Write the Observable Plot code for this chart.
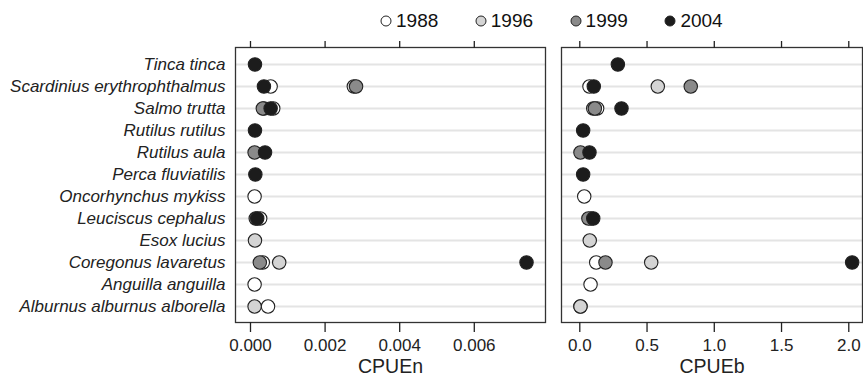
<!DOCTYPE html>
<html><head><meta charset="utf-8">
<script src="https://cdn.jsdelivr.net/npm/d3@7"></script>
<script src="https://cdn.jsdelivr.net/npm/@observablehq/plot@0.6"></script>
<style>
body{margin:0;background:#fff;font-family:"Liberation Sans",Arial,sans-serif;}
#wrap{position:relative;width:863px;height:383px;overflow:hidden;background:#fff;}
#left,#right{position:absolute;top:0;}
#left{left:0}
#right{left:550px}
#legend{position:absolute;left:0;top:0;width:863px;height:40px;z-index:5;}
.leg{position:absolute;top:8px;height:25px;display:flex;align-items:center;font-size:19px;color:#111;white-space:nowrap;}
.leg svg{margin-right:4px;}
</style></head><body>
<div id="wrap"><div id="left"></div><div id="right"></div><div id="legend"></div></div>
<script>
// ---- data ----
const species = ["Tinca tinca", "Scardinius erythrophthalmus", "Salmo trutta", "Rutilus rutilus", "Rutilus aula", "Perca fluviatilis", "Oncorhynchus mykiss", "Leuciscus cephalus", "Esox lucius", "Coregonus lavaretus", "Anguilla anguilla", "Alburnus alburnus alborella"];
const years = ["1988", "1996", "1999", "2004"];

const cpueN1988 = [null, 0.00054, 0.00061, null, null, null, 0.00011, 0.00026, null, 0.00033, 0.00011, 0.00047];
const cpueN1996 = [null, 0.00277, 0.00036, null, null, null, null, null, 0.00012, 0.00077, null, 0.00011];
const cpueN1999 = [null, 0.00283, 0.00033, null, 0.00011, null, null, 0.00014, null, 0.00025, null, null];
const cpueN2004 = [0.00012, 0.00036, 0.00054, 0.00012, 0.00039, 0.00013, null, 0.00018, null, 0.0074, null, null];

const cpueB1988 = [null, 0.072, 0.129, null, null, null, 0.033, 0.085, null, 0.122, 0.080, 0.005];
const cpueB1996 = [null, 0.58, 0.10, null, null, null, null, null, 0.074, 0.531, null, 0.005];
const cpueB1999 = [null, 0.825, 0.112, null, 0.005, null, null, 0.064, null, 0.191, null, null];
const cpueB2004 = [0.283, 0.104, 0.31, 0.025, 0.072, 0.025, null, 0.10, null, 2.025, null, null];

const ticksN = [0, 0.002, 0.004, 0.006];
const ticksB = [0, 0.5, 1.0, 1.5, 2.0];
const titleN = "CPUEn";
const titleB = "CPUEb";

// ---- styles ----
const fills = ["#ffffff", "#d4d4d4", "#8a8a8a", "#1c1c1c"];
const ink = "#222";

function longData(series) {
  const out = [];
  years.forEach((yr, j) => species.forEach((sp, i) => {
    const v = series[j][i];
    if (v != null) out.push({species: sp, year: yr, value: v});
  }));
  return out;
}

function panel(series, o) {
  const data = longData(series);
  const marks = [
    Plot.gridY({stroke: "#e4e4e4", strokeOpacity: 1, strokeWidth: 2}),
    Plot.frame({stroke: "#333", strokeWidth: 1.3}),
    Plot.axisX({anchor: "bottom", ticks: o.ticks, tickSize: 10, tickPadding: 6, tickFormat: o.fmt, strokeWidth: 1.3, fontSize: 17, label: null}),
    Plot.axisX({anchor: "top", ticks: o.ticks, tickSize: 7, tickFormat: () => "", strokeWidth: 1.3, label: null}),
    Plot.text([o.title], {frameAnchor: "bottom", dy: 50, fontSize: 19.5, fill: ink}),
    Plot.dot(data, {x: "value", y: "species", fill: "year", r: 6.7, stroke: ink, strokeWidth: 1.1})
  ];
  if (o.yAxis) marks.push(Plot.axisY({tickSize: 0, tickPadding: 10, fontSize: 17, fontStyle: "italic", label: null}));
  return Plot.plot({
    width: o.width, height: 383,
    marginTop: 47, marginBottom: 61, marginLeft: o.ml, marginRight: o.mr,
    style: {fontFamily: "Liberation Sans, Arial, sans-serif", fontSize: "17px", color: ink, background: "transparent", overflow: "visible"},
    x: {domain: o.domain, axis: null},
    y: {type: "point", domain: species, padding: 0, insetTop: 14, insetBottom: 13, axis: null},
    color: {domain: years, range: fills},
    marks
  });
}

document.getElementById("left").append(panel([cpueN1988, cpueN1996, cpueN1999, cpueN2004], {
  width: 550, ml: 235, mr: 5, domain: [-0.000402, 0.007909], ticks: ticksN, fmt: d3.format(".3f"), title: titleN, yAxis: true
}));
document.getElementById("right").append(panel([cpueB1988, cpueB1996, cpueB1999, cpueB2004], {
  width: 313, ml: 11, mr: 1, domain: [-0.136, 2.102], ticks: ticksB, fmt: d3.format(".1f"), title: titleB, yAxis: false
}));

// ---- legend ----
const legend = document.getElementById("legend");
years.forEach((yr, i) => {
  const d = document.createElement("div");
  d.className = "leg";
  d.style.left = (380 + i * 94.8) + "px";
  d.innerHTML = `<svg width="12" height="12"><circle cx="6" cy="6" r="5" fill="${fills[i]}" stroke="${ink}" stroke-width="1"/></svg><span>${yr}</span>`;
  legend.append(d);
});
</script>
</body></html>
